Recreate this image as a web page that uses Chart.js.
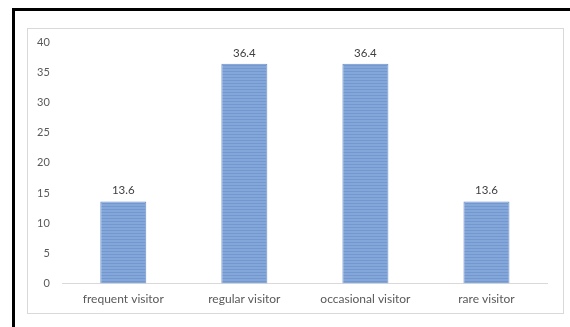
<!DOCTYPE html>
<html>
<head>
<meta charset="utf-8">
<script src="https://cdn.jsdelivr.net/npm/chart.js@4"></script>
<style>
  html, body { margin: 0; padding: 0; background: #fff; }
  #wrap { position: relative; width: 570px; height: 327px; }
</style>
</head>
<body>
<div id="wrap"><canvas id="chart" width="570" height="327"></canvas></div>
<script>
const categories = ["frequent visitor", "regular visitor", "occasional visitor", "rare visitor"];
const values = [13.6, 36.4, 36.4, 13.6];
const yTicks = [0, 5, 10, 15, 20, 25, 30, 35, 40];

const textColor = "#595959";
const fontFamily = "Lato, 'Open Sans', sans-serif";

// striped blue fill for the bars
function barPattern() {
  const c = document.createElement("canvas");
  c.width = 4;
  c.height = 3;
  const g = c.getContext("2d");
  g.fillStyle = "#84a7da";
  g.fillRect(0, 0, 4, 3);
  g.fillStyle = "#7497cf";
  g.fillRect(0, 2, 4, 1);
  return g.createPattern(c, "repeat");
}

// frame lines around the whole picture
const framePlugin = {
  id: "frame",
  beforeDraw(chart) {
    const ctx = chart.ctx;
    ctx.save();
    ctx.fillStyle = "#fff";
    ctx.fillRect(0, 0, chart.width, chart.height);
    ctx.strokeStyle = "#d9d9d9";
    ctx.lineWidth = 1;
    ctx.strokeRect(27.5, 28.5, 536, 285);
    ctx.fillStyle = "#000";
    ctx.fillRect(12, 8, 3, chart.height - 8);
    ctx.fillRect(12, 8, chart.width - 12, 3);
    ctx.restore();
  }
};

// value labels on top of each bar
const valueLabels = {
  id: "valueLabels",
  afterDatasetsDraw(chart) {
    const ctx = chart.ctx;
    const meta = chart.getDatasetMeta(0);
    ctx.save();
    ctx.font = "11.5px " + fontFamily;
    ctx.fillStyle = "#404040";
    ctx.textAlign = "center";
    ctx.textBaseline = "bottom";
    meta.data.forEach((bar, i) => {
      ctx.fillText(values[i].toFixed(1), bar.x, bar.y - 5);
    });
    ctx.restore();
  }
};

new Chart(document.getElementById("chart"), {
  type: "bar",
  data: {
    labels: categories,
    datasets: [{
      data: values,
      backgroundColor: barPattern(),
      borderColor: "#6a8fc9",
      borderWidth: 1,
      categoryPercentage: 1,
      barPercentage: 0.38
    }]
  },
  options: {
    responsive: false,
    animation: false,
    events: [],
    layout: { padding: { left: 24, right: 23, top: 42, bottom: 13 } },
    plugins: { legend: { display: false }, tooltip: { enabled: false } },
    scales: {
      x: {
        grid: { display: false, drawTicks: false },
        border: { display: true, color: "#d9d9d9", width: 1 },
        ticks: { color: textColor, font: { family: fontFamily, size: 12 }, padding: 8 }
      },
      y: {
        min: 0,
        max: 40,
        afterBuildTicks(axis) { axis.ticks = yTicks.map(v => ({ value: v })); },
        grid: { display: false, drawTicks: false },
        border: { display: false },
        ticks: { color: textColor, font: { family: fontFamily, size: 11 }, padding: 13 }
      }
    }
  },
  plugins: [framePlugin, valueLabels]
});
</script>
</body>
</html>
